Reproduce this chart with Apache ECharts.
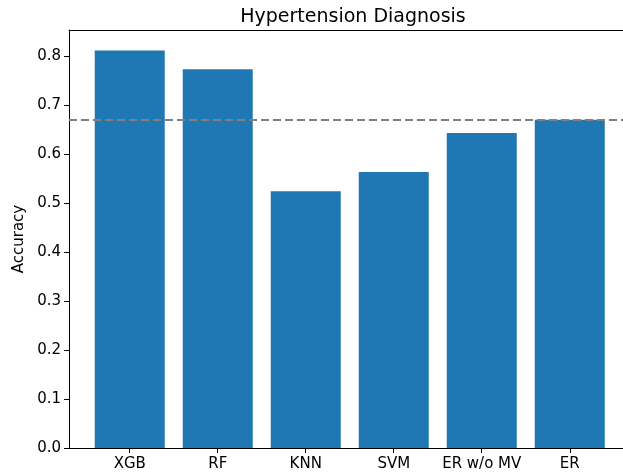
<!DOCTYPE html>
<html>
<head>
<meta charset="utf-8">
<script src="https://cdn.jsdelivr.net/npm/echarts@6/dist/echarts.min.js"></script>
<style>html,body{margin:0;padding:0;background:#fff}#c{width:623px;height:474px}</style>
</head>
<body>
<div id="c"></div>
<script>
const categories = ["XGB", "RF", "KNN", "SVM", "ER w/o MV", "ER"];
const accuracy = [0.811, 0.773, 0.524, 0.563, 0.643, 0.670];
const baseline = 0.670;
const yTicks = [0, 0.1, 0.2, 0.3, 0.4, 0.5, 0.6, 0.7, 0.8];

const chart = echarts.init(document.getElementById('c'), null, {renderer: 'canvas'});
const font = 'DejaVu Sans';
const idx = categories.map((_, i) => i);
const xMin = -0.69, xMax = 5.605;
chart.setOption({
  animation: false,
  backgroundColor: '#fff',
  title: {
    text: 'Hypertension Diagnosis', left: 348, top: 3, textAlign: 'center',
    textStyle: {fontFamily: font, fontSize: 19, fontWeight: 'normal', color: '#000'}
  },
  grid: {left: 69, top: 30, right: 0, height: 418},
  xAxis: [{
    type: 'value', min: xMin, max: xMax,
    splitLine: {show: false},
    axisLine: {show: true, onZero: false, lineStyle: {color: '#000', width: 1}},
    axisTick: {show: true, inside: false, length: 5, customValues: idx, lineStyle: {color: '#000', width: 1}},
    axisLabel: {customValues: idx, margin: 9, fontFamily: font, fontSize: 15, color: '#000',
      formatter: v => categories[Math.round(v)]}
  }, {
    type: 'value', position: 'top', min: xMin, max: xMax,
    splitLine: {show: false},
    axisLine: {show: true, onZero: false, lineStyle: {color: '#000', width: 1}},
    axisTick: {show: false}, axisLabel: {show: false}
  }],
  yAxis: {
    type: 'value', min: 0, max: 0.853,
    name: 'Accuracy', nameLocation: 'middle', nameGap: 42, nameRotate: 90,
    nameTextStyle: {fontFamily: font, fontSize: 15, color: '#000'},
    splitLine: {show: false},
    axisLine: {show: true, onZero: false, lineStyle: {color: '#000', width: 1}},
    axisTick: {show: true, inside: false, length: 5, customValues: yTicks, lineStyle: {color: '#000', width: 1}},
    axisLabel: {customValues: yTicks, margin: 8, fontFamily: font, fontSize: 15, color: '#000',
      formatter: v => v.toFixed(1)}
  },
  series: [{
    type: 'bar', xAxisIndex: 0,
    data: accuracy.map((v, i) => [i, v]),
    barWidth: 70,
    itemStyle: {color: '#1f77b4'},
    markLine: {
      silent: true, symbol: ['none', 'none'], label: {show: false},
      lineStyle: {color: '#808080', type: [8, 4], width: 2},
      data: [{yAxis: baseline}]
    }
  }]
});
</script>
</body>
</html>
